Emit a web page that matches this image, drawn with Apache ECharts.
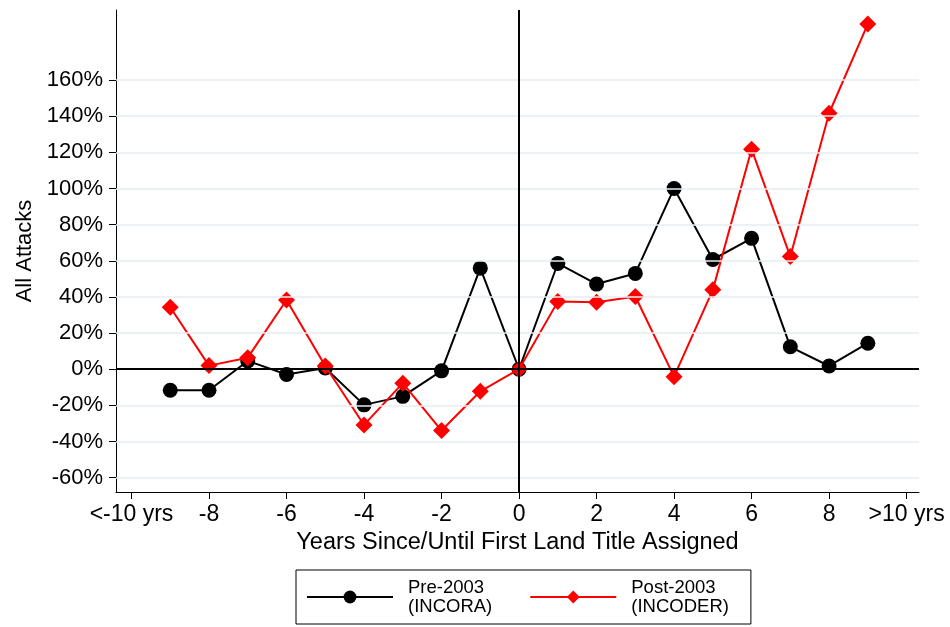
<!DOCTYPE html>
<html><head><meta charset="utf-8">
<script src="https://cdn.jsdelivr.net/npm/echarts@6/dist/echarts.min.js"></script>
<style>html,body{margin:0;padding:0;background:#fff}#c{width:950px;height:627px}</style>
</head><body><div id="c"></div>
<script>
const years = [-9,-8,-7,-6,-5,-4,-3,-2,-1,0,1,2,3,4,5,6,7,8,9];
const pre2003 = [-11.6,-11.6,4.6,-2.9,0.7,-19.7,-15.0,-0.9,55.9,0,58.5,47.1,53.0,100.0,60.7,72.4,12.4,1.8,14.4];
const post2003 = [34.3,2.0,6.4,38.3,1.8,-30.8,-7.7,-33.9,-12.2,0,37.4,37.0,40.2,-4.1,43.9,121.7,62.3,141.6,191.0];
const xTicks = [-10,-8,-6,-4,-2,0,2,4,6,8,10];
const xTickLabels = ['<-10 yrs','-8','-6','-4','-2','0','2','4','6','8','>10 yrs'];
const yTicks = [-60,-40,-20,0,20,40,60,80,100,120,140,160];
const seriesNames = ['Pre-2003\n(INCORA)','Post-2003\n(INCODER)'];
const xTitle = 'Years Since/Until First Land Title Assigned';
const yTitle = 'All Attacks';

const FONT = '"Liberation Sans", Arial, Helvetica, sans-serif';
const pairs = arr => years.map((y, i) => [y, arr[i]]);
const chart = echarts.init(document.getElementById('c'), null, {renderer: 'canvas'});
chart.setOption({
  animation: false,
  backgroundColor: '#fff',
  textStyle: {fontFamily: FONT, color: '#000'},
  grid: {left: 116, right: 31, top: 10, bottom: 135, containLabel: false},
  xAxis: {
    type: 'value', min: -10.4, max: 10.32,
    name: xTitle, nameLocation: 'middle', nameGap: 37,
    nameTextStyle: {fontSize: 23.5, color: '#000', fontFamily: FONT},
    axisLine: {show: true, onZero: false, lineStyle: {color: '#000', width: 1}},
    axisTick: {show: true, length: 7, customValues: xTicks, lineStyle: {color: '#000'}},
    axisLabel: {
      customValues: xTicks, fontSize: 23, color: '#000', margin: 11, fontFamily: FONT,
      formatter: v => { const i = xTicks.indexOf(Math.round(v)); return i >= 0 ? xTickLabels[i] : ''; }
    },
    splitLine: {show: false}
  },
  yAxis: {
    type: 'value', min: -67.9, max: 198.7,
    name: yTitle, nameLocation: 'middle', nameGap: 72,
    nameTextStyle: {fontSize: 22, color: '#000', fontFamily: FONT},
    axisLine: {show: true, onZero: false, lineStyle: {color: '#000', width: 1}},
    axisTick: {show: true, length: 7, customValues: yTicks, lineStyle: {color: '#000'}},
    axisLabel: {customValues: yTicks, fontSize: 22, color: '#000', margin: 13, fontFamily: FONT,
      formatter: v => Math.round(v) + '%'},
    splitLine: {show: false}
  },
  legend: {
    data: seriesNames,
    left: 296, top: 570,
    orient: 'horizontal',
    padding: [8, 22, 8, 10],
    itemGap: 37, itemWidth: 86, itemHeight: 16,
    borderColor: '#000', borderWidth: 1, borderRadius: 0,
    textStyle: {fontSize: 18.5, lineHeight: 19, color: '#000', fontFamily: FONT, padding: [0, 0, 0, 10]}
  },
  series: [
    {
      name: 'grid', type: 'line', data: [], z: 1, silent: true,
      markLine: {
        silent: true, symbol: 'none', animation: false,
        label: {show: false},
        lineStyle: {color: '#e4edf1', width: 1.5, type: 'solid'},
        data: yTicks.map(v => ({yAxis: v}))
      }
    },
    {
      name: seriesNames[0], type: 'line', data: pairs(pre2003), z: 3,
      symbol: 'circle', symbolSize: 15,
      lineStyle: {color: '#000', width: 2}, itemStyle: {color: '#000'},
      markLine: {
        silent: true, symbol: 'none', animation: false,
        label: {show: false},
        lineStyle: {color: '#000', width: 2, type: 'solid'},
        data: [{xAxis: 0}, {yAxis: 0}]
      }
    },
    {
      name: seriesNames[1], type: 'line', data: pairs(post2003), z: 4,
      symbol: 'diamond', symbolSize: 17,
      lineStyle: {color: '#ff0000', width: 2}, itemStyle: {color: '#ff0000'}
    }
  ]
});
</script></body></html>
